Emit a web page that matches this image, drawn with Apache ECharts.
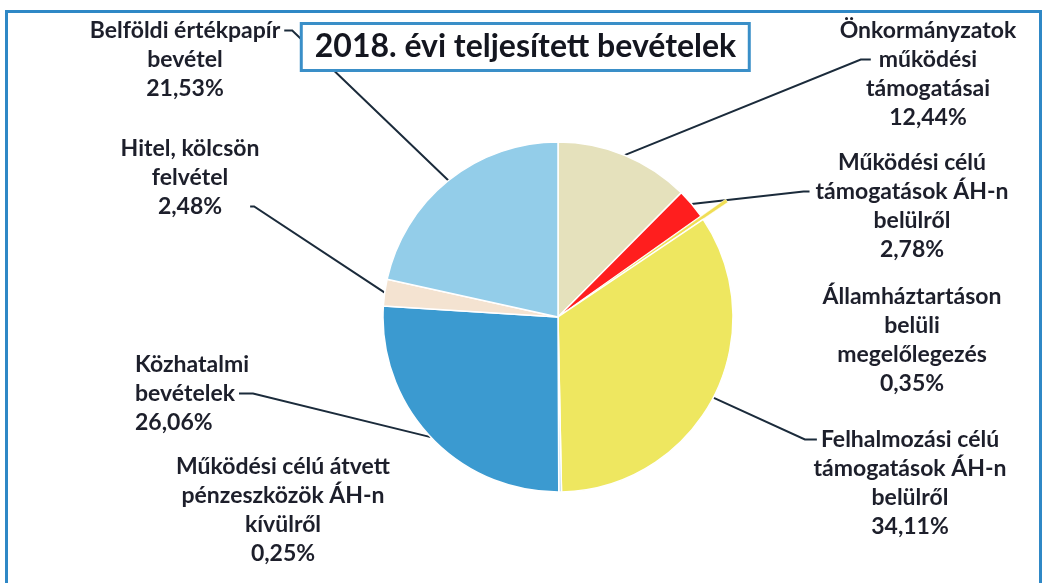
<!DOCTYPE html>
<html>
<head>
<meta charset="utf-8">
<title>2018. évi teljesített bevételek</title>
<script src="https://cdn.jsdelivr.net/npm/echarts@6/dist/echarts.min.js"></script>
<style>
html, body { margin: 0; padding: 0; background: #fff; }
#container { width: 1044px; height: 583px; }
</style>
</head>
<body>
<div id="container"></div>
<script>
// adatok (a kép alapján)
var titleText = '2018. évi teljesített bevételek';
var categories = [
    'Önkormányzatok\nműködési\ntámogatásai',
    'Működési célú\ntámogatások ÁH-n\nbelülről',
    'Államháztartáson\nbelüli\nmegelőlegezés',
    'Felhalmozási célú\ntámogatások ÁH-n\nbelülről',
    'Működési célú átvett\npénzeszközök ÁH-n\nkívülről',
    'Közhatalmi\nbevételek',
    'Hitel, kölcsön\nfelvétel',
    'Belföldi értékpapír\nbevétel'
];
var shares = [12.44, 2.78, 0.35, 34.11, 0.25, 26.06, 2.48, 21.53];
var colors = ['#E5E1BC', '#FF1E1E', '#F0DE55', '#EEE760', '#B5D5EC', '#3B9AD0', '#F4E3D1', '#93CDE9'];
var explodedIndex = 2;

// címkék elhelyezése: x, felső y, igazítás, vezetővonal oldala, melyik sorhoz, rés, törés
var labelPos = [
    {x: 928, y: 16,  align: 'center', side: 'left',  line: 1, gap: 8,  bend: 10},
    {x: 912, y: 148, align: 'center', side: 'left',  line: 1, gap: 6,  bend: 6},
    {x: 912, y: 282, align: 'center', side: null},
    {x: 910, y: 425, align: 'center', side: 'left',  line: 0, gap: 4,  bend: 12},
    {x: 283, y: 452, align: 'center', side: null},
    {x: 135, y: 350, align: 'left',   side: 'right', line: 1, gap: 4,  bend: 14},
    {x: 190, y: 134, align: 'center', side: 'right', line: 2, gap: 28, bend: 4},
    {x: 185, y: 16,  align: 'center', side: 'right', line: 0, gap: 4,  bend: 8}
];

var FONT = 'Lato, "Liberation Sans", sans-serif';
var FS = 23, LH = 29, TEXT_COLOR = '#1d1f2b';

var dom = document.getElementById('container');
var myChart = echarts.init(dom);

// szövegszélesség méréshez
var ctx = document.createElement('canvas').getContext('2d');
function textWidth(s, size) {
    ctx.font = 'bold ' + size + 'px ' + FONT;
    return ctx.measureText(s).width;
}

function fmt(v) {
    return v.toFixed(2).replace('.', ',') + '%';
}

var data = [];
for (var i = 0; i < shares.length; i++) {
    var item = {name: categories[i], value: shares[i], itemStyle: {color: colors[i]}};
    if (!labelPos[i].side) item.labelLine = {show: false};
    if (i === explodedIndex) {
        // kiemelt szelet: a címkét külön szövegként rajzoljuk, mert a kijelölt állapot felülírja a helyét
        item.selected = true;
        item.label = {show: false};
        item.itemStyle.borderWidth = 0.5;
    }
    data.push(item);
}

var TITLE_FS = 32;
var tw = textWidth(titleText, TITLE_FS);
var padH = Math.max(4, (449 - tw) / 2);

var ex = labelPos[explodedIndex];

myChart.setOption({
    animation: false,
    backgroundColor: '#fff',
    title: {
        text: titleText,
        left: 301,
        top: 23,
        padding: [8, padH],
        backgroundColor: '#fff',
        borderColor: '#3A8FC8',
        borderWidth: 3,
        textStyle: {
            fontFamily: FONT,
            fontSize: TITLE_FS,
            fontWeight: 'bold',
            lineHeight: 32,
            color: '#14161f'
        }
    },
    graphic: [{
        type: 'rect',
        silent: true,
        z: -1,
        shape: {x: 6.5, y: 11.5, width: 1034, height: 600},
        style: {fill: 'none', stroke: '#2F88C6', lineWidth: 3}
    }, {
        type: 'text',
        silent: true,
        x: ex.x,
        y: ex.y,
        style: {
            text: categories[explodedIndex] + '\n' + fmt(shares[explodedIndex]),
            font: 'bold ' + FS + 'px ' + FONT,
            lineHeight: LH,
            fill: TEXT_COLOR,
            align: 'center',
            verticalAlign: 'top'
        }
    }],
    series: [{
        type: 'pie',
        center: [558, 317],
        radius: 175,
        startAngle: 90,
        clockwise: true,
        selectedMode: 'single',
        selectedOffset: 30,
        avoidLabelOverlap: false,
        itemStyle: {borderColor: '#fff', borderWidth: 1.5},
        emphasis: {disabled: true},
        label: {
            show: true,
            position: 'outside',
            fontFamily: FONT,
            fontSize: FS,
            lineHeight: LH,
            fontWeight: 'bold',
            color: TEXT_COLOR,
            formatter: function (p) {
                return p.name + '\n' + fmt(p.value);
            }
        },
        labelLine: {
            show: true,
            smooth: false,
            lineStyle: {color: '#1B2B3B', width: 2}
        },
        labelLayout: function (params) {
            var p = labelPos[params.dataIndex];
            var out = {x: p.x, y: p.y, align: p.align, verticalAlign: 'top'};
            if (p.side && params.labelLinePoints) {
                var lines = params.text.split('\n');
                var w = textWidth(lines[p.line], FS);
                var left = p.align === 'center' ? p.x - w / 2 : p.x;
                var right = left + w;
                var ey = p.y + (p.line + 0.5) * LH;
                var ex2 = p.side === 'left' ? left - p.gap : right + p.gap;
                var bx = p.side === 'left' ? ex2 - p.bend : ex2 + p.bend;
                out.labelLinePoints = [params.labelLinePoints[0], [bx, ey], [ex2, ey]];
            }
            return out;
        },
        data: data
    }]
});
</script>
</body>
</html>
